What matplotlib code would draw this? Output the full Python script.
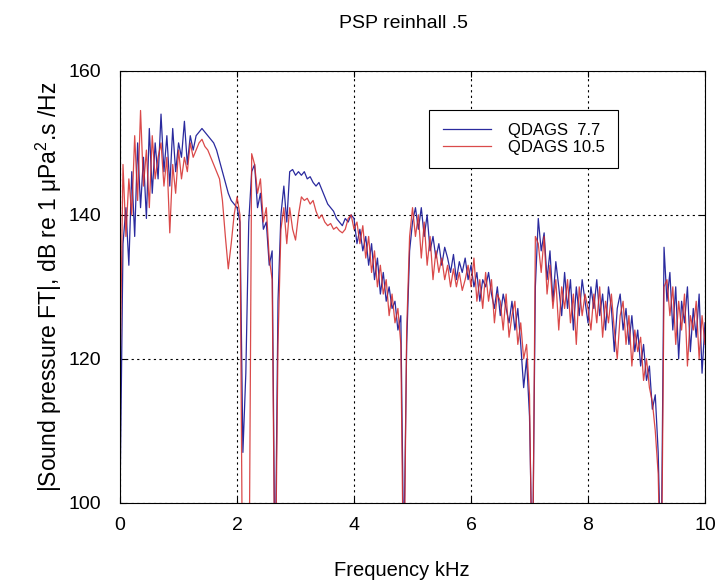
import numpy as np
import matplotlib
matplotlib.use("Agg")
import matplotlib.pyplot as plt

# data (0.05 kHz bins)
freq_khz = np.linspace(0, 10, 201)

spl_77 = [
    101, 136, 141, 133, 146, 137, 150, 141, 148, 139.5, 152, 143, 150, 145, 154, 146, 151, 144, 152, 146,
    150, 148, 153, 147, 151, 149, 151, 151.5, 152, 151.5, 151, 150.5, 150, 149, 147.5, 146, 144.5, 143, 142, 141.5,
    141, 139, 107, 118, 139, 146, 147, 141, 143, 138, 139, 133, 135, 88, 128, 140, 144, 139, 146, 146.3,
    145.5, 146, 145.5, 146, 145, 145.3, 144.5, 144, 144.5, 143.5, 142.5, 141.5, 141, 140.5, 139.5, 139, 138.5, 139.5, 139, 140,
    139.5, 136, 138, 135, 137, 133, 136, 131, 134, 129, 132, 128, 130, 127, 128, 124, 126, 92, 122, 135,
    139, 141, 138, 141, 137, 140, 135, 137, 134, 136, 133, 135.5, 134, 132, 134.5, 131, 133.5, 132, 134, 131,
    133, 130, 132, 128, 131, 130, 132, 129, 127, 130, 126, 129, 127, 125, 128, 124, 127, 122, 116, 120,
    112, 90, 130, 139.5, 135, 137.5, 131, 135, 128, 133.5, 130, 126, 132, 127, 131, 124, 130, 126, 131, 128,
    125, 130, 127, 131, 126, 129, 124, 130, 127, 121, 127, 129, 124, 127, 122, 126, 121, 124, 119, 122,
    117, 119, 113, 115, 107, 90, 135.5, 128, 132, 124, 130, 120, 128, 125, 130, 121, 127, 123, 129, 118,
    125,
]

spl_105 = [
    118, 147, 137, 145, 140, 151, 142, 154.5, 144, 149, 141, 151, 145, 148, 150, 144, 148, 137.5, 147, 143,
    149, 145, 148, 146, 150, 148, 149, 150, 150.5, 149.5, 149, 148, 147, 146, 145, 142, 137, 132.5, 136, 140,
    142.5, 140, 80, 80, 80, 148.5, 147, 143, 145, 139, 141, 134, 131, 85, 122, 138, 141, 136, 141, 138,
    136.5, 140, 142.5, 142, 142.3, 141.5, 142, 140.5, 139.5, 140, 139, 138.5, 138.8, 138, 138.3, 137.8, 137.5, 138, 139.5, 140,
    138, 139, 136, 138.5, 134, 137, 132, 135, 130, 133, 129, 131, 126, 129, 125, 127, 122, 85, 124, 137,
    141, 137, 140, 134, 139, 133, 137, 131, 135, 132, 134, 131, 133, 130, 132.5, 130, 132, 129.5, 131, 133,
    130, 134, 128, 131, 127, 132, 128, 131, 125, 129, 128, 124, 129, 123, 126, 128, 122, 125, 120, 122,
    115, 85, 137, 136, 132, 137, 129, 133, 127, 131, 124, 130, 127, 131, 125, 129, 122, 130, 126, 129,
    127, 124, 129, 125, 130, 123, 128, 125, 129, 124, 120, 126, 128, 122, 126, 119, 124, 121, 123, 117,
    120, 116, 114, 110, 104, 85, 130, 131, 126, 130, 122, 128, 124, 129, 119, 126, 124, 128, 120, 126,
    122,
]

plt.rcParams["font.family"] = ["Liberation Sans", "DejaVu Sans"]
plt.rcParams["mathtext.fontset"] = "custom"
plt.rcParams["mathtext.rm"] = "Liberation Sans"

fig = plt.figure(figsize=(7.19, 5.86), dpi=100)
ax = fig.add_axes([0.167, 0.142, 0.8135, 0.737])

ax.plot(freq_khz, spl_77, color="#2a2a9e", lw=0.9, label="QDAGS  7.7")
ax.plot(freq_khz, spl_105, color="#d42a2a", lw=0.9, alpha=0.85, label="QDAGS 10.5")

ax.set_xlim(0, 10)
ax.set_ylim(100, 160)
ax.set_xticks([0, 2, 4, 6, 8, 10])
ax.set_yticks([100, 120, 140, 160])
ax.tick_params(direction="in", labelsize=14, top=True, right=True, length=4)
ax.tick_params(axis="x", pad=10)
ax.tick_params(axis="y", pad=13.5)
ax.grid(True, color="black", linestyle=(0, (2, 3)), linewidth=0.8)

ax.set_title("PSP reinhall .5", fontsize=14, pad=31, x=0.485)
ax.set_xlabel("Frequency kHz", fontsize=14.5, labelpad=22)
ax.xaxis.set_label_coords(0.482, -0.135)
ax.set_ylabel("|Sound pressure FT|, dB re 1 μPa$^2$.s /Hz", fontsize=16.5, labelpad=3)

leg = ax.legend(loc="upper right", bbox_to_anchor=(0.851, 0.910), borderaxespad=0,
                fontsize=12, fancybox=False, framealpha=1, edgecolor="black",
                handlelength=2.9, handletextpad=1.0, borderpad=0.8, labelspacing=0.1)
leg.get_frame().set_linewidth(0.8)

plt.savefig("out.png", dpi=100)
